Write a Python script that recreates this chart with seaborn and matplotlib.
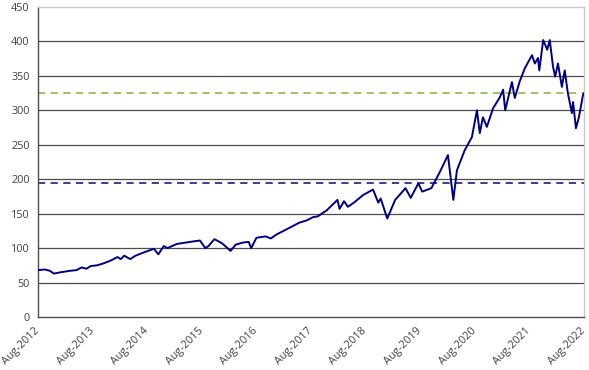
import matplotlib
matplotlib.use("Agg")
import matplotlib.pyplot as plt
import matplotlib.dates as mdates
import matplotlib.transforms as mtransforms
import seaborn as sns
import pandas as pd

dates = [
    "2012-08-01", "2012-09-15", "2012-10-20", "2012-11-15", "2013-01-01", "2013-03-01",
    "2013-04-15", "2013-05-20", "2013-06-20", "2013-07-20", "2013-09-01", "2013-10-15",
    "2013-12-01", "2014-01-15", "2014-02-05", "2014-03-01", "2014-04-10", "2014-05-15",
    "2014-07-01", "2014-09-15", "2014-10-15", "2014-11-20", "2014-12-15", "2015-02-15",
    "2015-04-15", "2015-06-15", "2015-07-20", "2015-08-25", "2015-09-15", "2015-10-25",
    "2015-12-15", "2016-02-10", "2016-03-15", "2016-05-01", "2016-06-10", "2016-06-27",
    "2016-08-01", "2016-10-01", "2016-11-05", "2016-12-15", "2017-01-20", "2017-03-15",
    "2017-05-15", "2017-07-01", "2017-08-15", "2017-09-15", "2017-11-15", "2018-01-25",
    "2018-02-08", "2018-03-10", "2018-04-05", "2018-05-15", "2018-07-15", "2018-09-20",
    "2018-10-25", "2018-11-10", "2018-12-24", "2019-02-15", "2019-04-25", "2019-05-30",
    "2019-07-20", "2019-08-15", "2019-10-15", "2019-12-12", "2020-02-03", "2020-03-10",
    "2020-04-03", "2020-05-25", "2020-07-12", "2020-08-15", "2020-09-03", "2020-09-24",
    "2020-10-20", "2020-12-01", "2021-01-15", "2021-02-06", "2021-02-20", "2021-04-06",
    "2021-04-25", "2021-05-28", "2021-07-01", "2021-08-18", "2021-09-06", "2021-09-27",
    "2021-10-06", "2021-11-01", "2021-11-28", "2021-12-15", "2022-01-06", "2022-01-20",
    "2022-02-08", "2022-03-06", "2022-03-25", "2022-04-15", "2022-05-12", "2022-05-20",
    "2022-06-08", "2022-06-28", "2022-07-25", "2022-08-01",
]
values = [
    68, 69, 67, 63, 65, 67,
    68, 72, 70, 74, 75, 78,
    82, 87, 84, 89, 84, 89,
    93, 99, 91, 103, 100, 106,
    108, 110, 111, 100, 103, 113,
    107, 96, 105, 108, 109, 100,
    115, 117, 114, 120, 124, 130,
    137, 140, 145, 146, 155, 170,
    157, 168, 160, 166, 177, 185,
    166, 172, 143, 170, 187, 173,
    194, 182, 187, 211, 235, 170,
    213, 242, 261, 300, 267, 290,
    276, 303, 319, 330, 300, 341,
    318, 342, 361, 380, 368, 376,
    358, 402, 388, 402, 363, 349,
    368, 334, 358, 325, 296, 312,
    274, 290, 322, 325,
]
level_high = 325
level_low = 195

y_ticks = list(range(0, 451, 50))
x_tick_years = list(range(2012, 2023))

df = pd.DataFrame({"date": pd.to_datetime(dates), "value": values})

sns.set_theme(style="white")
plt.rcParams["font.family"] = ["Open Sans", "DejaVu Sans"]

fig = plt.figure(figsize=(5.89, 3.70), dpi=100)
ax = fig.add_axes([38 / 589, 1 - 317 / 370, (584 - 38) / 589, (317 - 7) / 370])

for yv in y_ticks[1:-1]:
    ax.axhline(yv, color="#4d4d4d", lw=0.9, zorder=1)

sns.lineplot(data=df, x="date", y="value", ax=ax, color="#000080", lw=1.4, zorder=3)

ax.axhline(level_high, color="#9bbb59", lw=1.3, ls=(0, (4, 3)), zorder=2)
ax.axhline(level_low, color="#2e2e8a", lw=1.3, ls=(0, (4, 3)), zorder=2)

ax.set_ylim(0, 450)
ax.set_yticks(y_ticks)
ax.set_yticklabels([str(v) for v in y_ticks])
xt = pd.to_datetime([f"{y}-08-01" for y in x_tick_years])
ax.set_xlim(xt[0], xt[-1])
ax.set_xticks(xt)
ax.xaxis.set_major_formatter(mdates.DateFormatter("%b-%Y"))
ax.set_xlabel("")
ax.set_ylabel("")

ax.tick_params(axis="both", which="major", labelsize=7.8, labelcolor="#404040",
               color="#4d4d4d", length=4, width=0.9, direction="out")
ax.tick_params(axis="x", pad=2)
ax.tick_params(axis="y", pad=2)

offset = mtransforms.ScaledTranslation(-4 / 100, 0, fig.dpi_scale_trans)
for lbl in ax.get_xticklabels():
    lbl.set_rotation(45)
    lbl.set_ha("right")
    lbl.set_rotation_mode("anchor")
    lbl.set_transform(lbl.get_transform() + offset)

for side in ["left", "bottom"]:
    ax.spines[side].set_color("#4d4d4d")
    ax.spines[side].set_linewidth(1.0)
for side in ["top", "right"]:
    ax.spines[side].set_color("#c8c8c8")
    ax.spines[side].set_linewidth(1.0)

fig.savefig("out.png", dpi=100)
